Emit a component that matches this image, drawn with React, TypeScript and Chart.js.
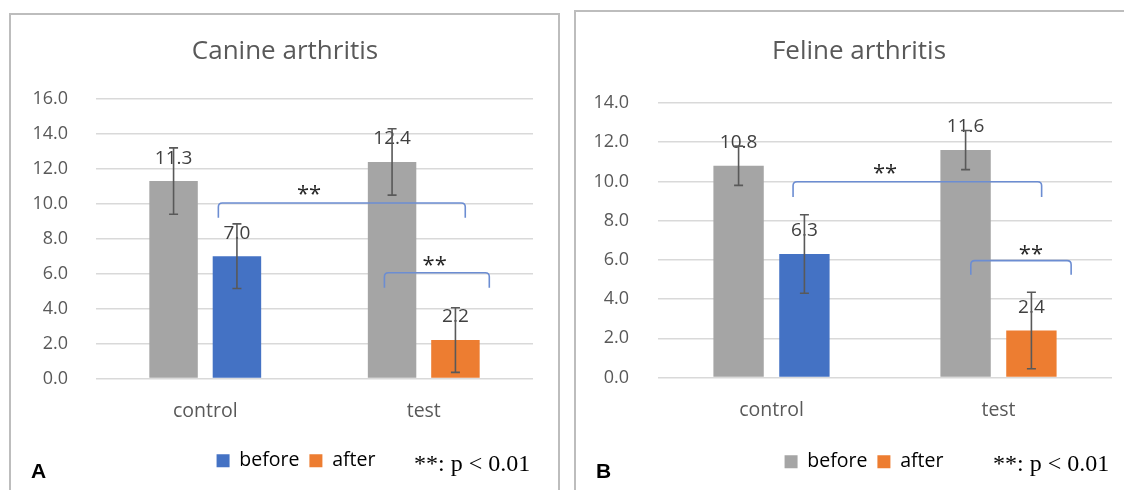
import React, { useEffect, useRef } from 'react';
import { Chart, registerables } from 'chart.js';

Chart.register(...registerables);

// ---------- data ----------
const categories = ['control', 'test'];
const seriesLabels = ['before', 'after'];
const footnote = '**: p < 0.01';

// Panel A – canine
const canineTitle = 'Canine arthritis';
const canineGrey = [11.3, 12.4];
const canineColored = [7.0, 2.2];
const canineGreyErr = [1.9, 1.9];
const canineColoredErr = [1.85, 1.85];
const canineYMax = 16;

// Panel B – feline
const felineTitle = 'Feline arthritis';
const felineGrey = [10.8, 11.6];
const felineColored = [6.3, 2.4];
const felineGreyErr = [1.0, 1.0];
const felineColoredErr = [2.0, 1.95];
const felineYMax = 14;

const yStep = 2;

// significance brackets, in category-index / value units
const canineBrackets = [
  { from: 0.06, to: 1.19, y: 10.05, end: 9.2, starX: 0.475, starY: 10.85 },
  { from: 0.82, to: 1.3, y: 6.05, end: 5.2, starX: 1.05, starY: 6.8 },
];
const felineBrackets = [
  { from: 0.095, to: 1.19, y: 9.98, end: 9.2, starX: 0.5, starY: 10.69 },
  { from: 0.878, to: 1.32, y: 5.96, end: 5.24, starX: 1.143, starY: 6.57 },
];

// ---------- style ----------
const GREY = '#A5A5A5';
const BLUE = '#4472C4';
const ORANGE = '#ED7D31';
const TEXT = '#595959';
const FONT = 'Open Sans';

type Bracket = { from: number; to: number; y: number; end: number; starX: number; starY: number };

type PanelProps = {
  left: number;
  top: number;
  width: number;
  height: number;
  title: string;
  grey: number[];
  colored: number[];
  greyErr: number[];
  coloredErr: number[];
  yMax: number;
  brackets: Bracket[];
  legendColors: string[];
  yAxisWidth: number;
  yTickPad: number;
  padRight: number;
  padBottom: number;
  xAxisHeight: number;
  titlePadTop: number;
  titlePadBottom: number;
  titleDx: number;
  legendDx: number;
};

function buildConfig(p: PanelProps): any {
  const errs = [p.greyErr, p.coloredErr];
  const extras = {
    id: 'extras',
    afterLayout(chart: any) {
      if (chart.legend) {
        chart.legend.left += p.legendDx;
        chart.legend.right += p.legendDx;
      }
      if (chart.titleBlock) {
        chart.titleBlock.left += p.titleDx;
        chart.titleBlock.right += p.titleDx;
      }
    },
    afterDatasetsDraw(chart: any) {
      const ctx = chart.ctx as CanvasRenderingContext2D;
      const xs = chart.scales.x;
      const ys = chart.scales.y;
      ctx.save();
      // value labels
      ctx.font = `19px "${FONT}"`;
      ctx.fillStyle = '#404040';
      ctx.textAlign = 'center';
      ctx.textBaseline = 'middle';
      chart.data.datasets.forEach((ds: any, i: number) => {
        const meta = chart.getDatasetMeta(i);
        meta.data.forEach((bar: any, j: number) => {
          ctx.fillText(Number(ds.data[j]).toFixed(1), bar.x, bar.y - 23);
        });
      });
      // error bars
      ctx.strokeStyle = '#595959';
      ctx.lineWidth = 1.6;
      chart.data.datasets.forEach((ds: any, i: number) => {
        const meta = chart.getDatasetMeta(i);
        meta.data.forEach((bar: any, j: number) => {
          const v = Number(ds.data[j]);
          const e = errs[i][j];
          const yt = ys.getPixelForValue(v + e);
          const yb = ys.getPixelForValue(v - e);
          const cx = bar.x;
          ctx.beginPath();
          ctx.moveTo(cx, yt);
          ctx.lineTo(cx, yb);
          ctx.moveTo(cx - 4.5, yt);
          ctx.lineTo(cx + 4.5, yt);
          ctx.moveTo(cx - 4.5, yb);
          ctx.lineTo(cx + 4.5, yb);
          ctx.stroke();
        });
      });
      // significance brackets
      ctx.strokeStyle = '#6C8DD2';
      ctx.lineWidth = 1.6;
      p.brackets.forEach((b) => {
        const x1 = xs.getPixelForValue(b.from);
        const x2 = xs.getPixelForValue(b.to);
        const y = ys.getPixelForValue(b.y);
        const ye = ys.getPixelForValue(b.end);
        const r = 4;
        ctx.beginPath();
        ctx.moveTo(x1, ye);
        ctx.lineTo(x1, y + r);
        ctx.quadraticCurveTo(x1, y, x1 + r, y);
        ctx.lineTo(x2 - r, y);
        ctx.quadraticCurveTo(x2, y, x2, y + r);
        ctx.lineTo(x2, ye);
        ctx.stroke();
        ctx.font = `22px "${FONT}"`;
        ctx.fillStyle = '#262626';
        ctx.fillText('**', xs.getPixelForValue(b.starX), ys.getPixelForValue(b.starY) + 6);
      });
      ctx.restore();
    },
  };

  return {
    type: 'bar',
    data: {
      labels: categories,
      datasets: [
        {
          label: 'grey',
          data: p.grey,
          backgroundColor: GREY,
          categoryPercentage: 0.58,
          barPercentage: 0.765,
        },
        {
          label: 'colored',
          data: p.colored,
          backgroundColor: [BLUE, ORANGE],
          categoryPercentage: 0.58,
          barPercentage: 0.765,
        },
      ],
    },
    options: {
      responsive: false,
      animation: false,
      events: [],
      layout: { padding: { left: 0, right: p.padRight, top: 0, bottom: p.padBottom } },
      plugins: {
        title: {
          display: true,
          text: p.title,
          color: TEXT,
          font: { family: FONT, size: 26, weight: 'normal' },
          padding: { top: p.titlePadTop, bottom: p.titlePadBottom },
        },
        legend: {
          display: true,
          position: 'bottom',
          onClick: () => {},
          labels: {
            boxWidth: 13,
            boxHeight: 13,
            padding: 10,
            color: TEXT,
            font: { family: FONT, size: 19.5 },
            generateLabels: () =>
              p.legendColors.map((c, i) => ({
                text: seriesLabels[i],
                fillStyle: c,
                strokeStyle: c,
                lineWidth: 0,
                hidden: false,
                datasetIndex: i,
              })),
          },
        },
        tooltip: { enabled: false },
      },
      scales: {
        x: {
          grid: { display: false, drawTicks: false },
          border: { display: false },
          ticks: { color: TEXT, font: { family: FONT, size: 19.5 }, padding: 21 },
          afterFit: (s: any) => {
            s.height = p.xAxisHeight;
          },
        },
        y: {
          min: 0,
          max: p.yMax,
          ticks: {
            stepSize: yStep,
            color: TEXT,
            font: { family: FONT, size: 18 },
            padding: p.yTickPad,
            callback: (v: any) => Number(v).toFixed(1),
          },
          grid: { color: '#D9D9D9', lineWidth: 1.5, drawTicks: false },
          border: { display: false },
          afterFit: (s: any) => {
            s.width = p.yAxisWidth;
          },
        },
      },
    },
    plugins: [extras],
  };
}

function BarPanel(props: PanelProps) {
  const ref = useRef<HTMLCanvasElement | null>(null);
  useEffect(() => {
    if (!ref.current) return;
    const chart = new Chart(ref.current, buildConfig(props));
    return () => chart.destroy();
  }, []);
  return (
    <canvas
      ref={ref}
      width={props.width}
      height={props.height}
      style={{
        position: 'absolute',
        left: props.left,
        top: props.top,
        width: props.width,
        height: props.height,
      }}
    />
  );
}

const panelBorder = '2px solid #BDBDBD';

const letterStyle: React.CSSProperties = {
  position: 'absolute',
  top: 460,
  fontFamily: '"Liberation Sans", Arial, sans-serif',
  fontWeight: 'bold',
  fontSize: 21,
  lineHeight: '21px',
  color: '#000',
};

const noteStyle: React.CSSProperties = {
  position: 'absolute',
  top: 451,
  fontFamily: '"Liberation Serif", "Times New Roman", serif',
  fontSize: 24,
  lineHeight: '24px',
  color: '#000',
  whiteSpace: 'pre',
};

export default function App() {
  return (
    <div
      style={{
        position: 'fixed',
        left: 0,
        top: 0,
        width: 1124,
        height: 490,
        overflow: 'hidden',
        background: '#fff',
      }}
    >
      <div
        style={{
          position: 'absolute',
          left: 9,
          top: 13,
          width: 551,
          height: 500,
          border: panelBorder,
          boxSizing: 'border-box',
        }}
      />
      <div
        style={{
          position: 'absolute',
          left: 574,
          top: 10,
          width: 560,
          height: 500,
          border: panelBorder,
          boxSizing: 'border-box',
        }}
      />
      <BarPanel
        left={11}
        top={15}
        width={547}
        height={475}
        title={canineTitle}
        grey={canineGrey}
        colored={canineColored}
        greyErr={canineGreyErr}
        coloredErr={canineColoredErr}
        yMax={canineYMax}
        brackets={canineBrackets}
        legendColors={[BLUE, ORANGE]}
        yAxisWidth={85}
        yTickPad={28}
        padRight={25}
        padBottom={9.5}
        xAxisHeight={62.5}
        titlePadTop={21}
        titlePadBottom={31.8}
        titleDx={13}
        legendDx={24}
      />
      <BarPanel
        left={576}
        top={12}
        width={548}
        height={478}
        title={felineTitle}
        grey={felineGrey}
        colored={felineColored}
        greyErr={felineGreyErr}
        coloredErr={felineColoredErr}
        yMax={felineYMax}
        brackets={felineBrackets}
        legendColors={[GREY, ORANGE]}
        yAxisWidth={82}
        yTickPad={29}
        padRight={12}
        padBottom={8.5}
        xAxisHeight={64.5}
        titlePadTop={24}
        titlePadBottom={35.8}
        titleDx={15}
        legendDx={20}
      />
      <div style={{ ...letterStyle, left: 31 }}>A</div>
      <div style={{ ...letterStyle, left: 596 }}>B</div>
      <div style={{ ...noteStyle, left: 414 }}>{footnote}</div>
      <div style={{ ...noteStyle, left: 993 }}>{footnote}</div>
    </div>
  );
}
